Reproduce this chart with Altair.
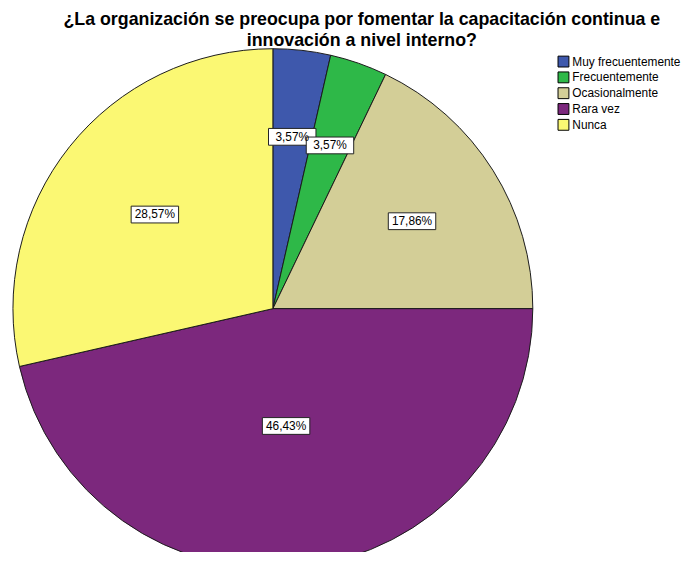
import altair as alt
import pandas as pd

# ---- data ----
categories = ["Muy frecuentemente", "Frecuentemente", "Ocasionalmente", "Rara vez", "Nunca"]
percentages = [3.57, 3.57, 17.86, 46.43, 28.57]
colors = ["#3E58AC", "#2EB848", "#D3CE97", "#7C287D", "#FBF873"]
title_lines = [
    "¿La organización se preocupa por fomentar la capacitación continua e",
    "innovación a nivel interno?",
]

# ---- layout ----
W, H = 536, 508
CX, CY = 268, 265
R = 263
FONT = "Liberation Sans"
BOX = "M-1,-0.354L1,-0.354L1,0.354L-1,0.354Z"

df = pd.DataFrame({"cat": categories, "pct": percentages, "idx": list(range(len(categories)))})
base = alt.Chart(df)

color = alt.Color(
    "cat:N",
    scale=alt.Scale(domain=categories, range=colors),
    legend=alt.Legend(
        title=None, orient="none", legendX=556, legendY=9,
        symbolType="square", symbolSize=121, symbolStrokeColor="black",
        symbolStrokeWidth=1, symbolOpacity=1,
        labelFont=FONT, labelFontSize=12, labelColor="black",
        labelOffset=3, rowPadding=0, padding=0,
    ),
)

arcs = base.mark_arc(radius=R, stroke="#1a1a1a", strokeWidth=1).encode(
    theta=alt.Theta("pct:Q", stack=True),
    color=color,
    order=alt.Order("idx:Q"),
    x=alt.value(CX),
    y=alt.value(CY),
)

lab = (
    base.transform_joinaggregate(total="sum(pct)")
    .transform_window(cum="sum(pct)", sort=[alt.SortField("idx")], frame=[None, 0])
    .transform_calculate(a0="2*PI*(datum.cum - datum.pct)/datum.total")
    .transform_calculate(a1="2*PI*datum.cum/datum.total")
    .transform_calculate(mid="(datum.a0 + datum.a1)/2")
    .transform_calculate(half="(datum.a1 - datum.a0)/2")
    .transform_calculate(rc=f"2/3*{R}*sin(datum.half)/datum.half")
    .transform_calculate(lx=f"{CX} + datum.rc*sin(datum.mid)")
    .transform_calculate(ly=f"{CY} - datum.rc*cos(datum.mid)")
    .transform_calculate(label="replace(format(datum.pct, '.2f'), '.', ',') + '%'")
)

xenc = alt.X("lx:Q", scale=alt.Scale(domain=[0, W], nice=False, zero=False), axis=None)
yenc = alt.Y("ly:Q", scale=alt.Scale(domain=[0, H], nice=False, zero=False, reverse=True), axis=None)

boxes = lab.mark_point(
    shape=BOX, size=2304, filled=True, fill="white", stroke="#222222",
    strokeWidth=1, opacity=1, fillOpacity=1,
).encode(x=xenc, y=yenc)

texts = lab.mark_text(font=FONT, fontSize=12, color="black", baseline="middle", align="center").encode(
    x=xenc, y=yenc, text="label:N"
)

chart = (
    alt.layer(arcs, boxes, texts)
    .properties(
        width=W,
        height=H,
        title=alt.Title(
            title_lines, fontSize=18, font=FONT, fontWeight="bold", color="black",
            anchor="middle", dx=90, offset=-3, lineHeight=20.5,
        ),
        autosize=alt.AutoSizeParams(type="none"),
        padding={"top": 36, "left": 0, "right": 151, "bottom": 0},
    )
    .configure_view(stroke=None)
)

chart.save("out.html", embed_options={"renderer": "svg", "actions": False})
